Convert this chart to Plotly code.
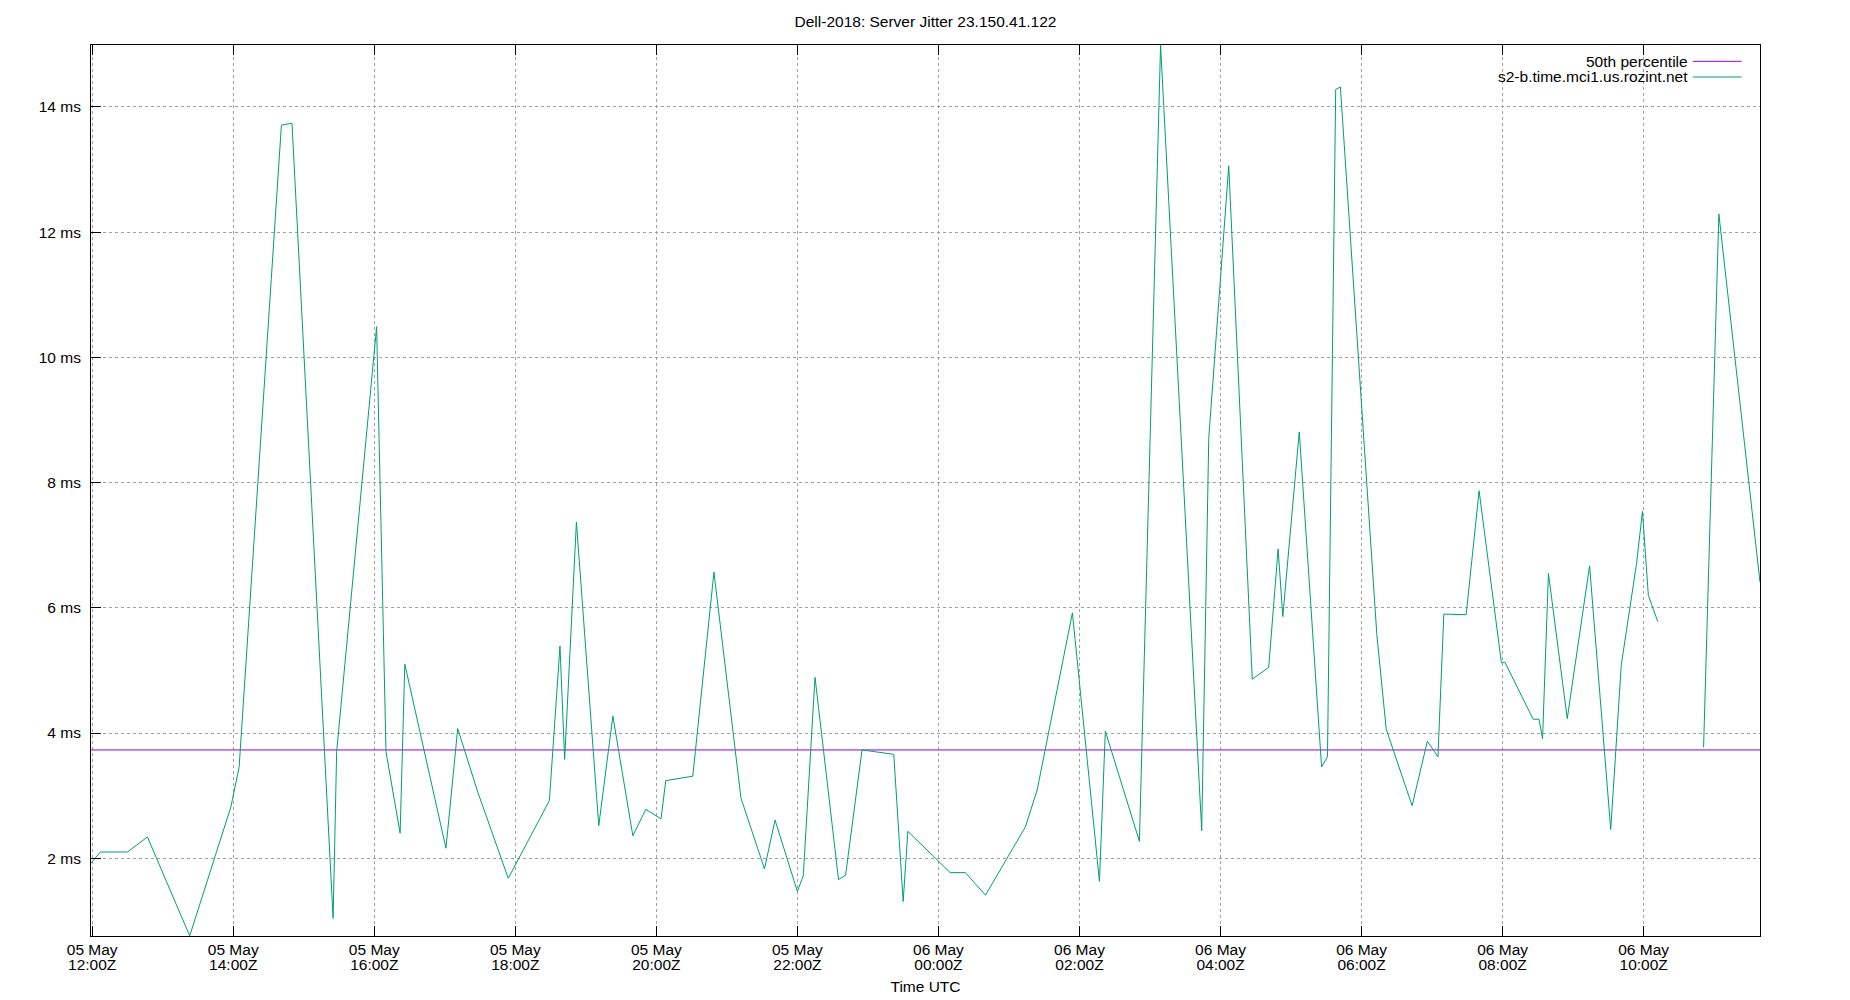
import plotly.graph_objects as go

# ---------------- data ----------------
times = [
    "2018-05-05 11:59", "2018-05-05 12:07", "2018-05-05 12:30", "2018-05-05 12:47",
    "2018-05-05 13:23", "2018-05-05 13:58", "2018-05-05 14:05", "2018-05-05 14:41",
    "2018-05-05 14:50", "2018-05-05 15:25", "2018-05-05 15:28", "2018-05-05 16:02",
    "2018-05-05 16:10", "2018-05-05 16:22", "2018-05-05 16:26", "2018-05-05 17:01",
    "2018-05-05 17:11", "2018-05-05 17:28", "2018-05-05 17:54", "2018-05-05 18:29",
    "2018-05-05 18:38", "2018-05-05 18:42", "2018-05-05 18:52", "2018-05-05 19:11",
    "2018-05-05 19:23", "2018-05-05 19:40", "2018-05-05 19:51", "2018-05-05 20:04",
    "2018-05-05 20:08", "2018-05-05 20:31", "2018-05-05 20:49", "2018-05-05 21:12",
    "2018-05-05 21:32", "2018-05-05 21:41", "2018-05-05 22:00", "2018-05-05 22:05",
    "2018-05-05 22:15", "2018-05-05 22:35", "2018-05-05 22:41", "2018-05-05 22:55",
    "2018-05-05 23:22", "2018-05-05 23:30", "2018-05-05 23:34", "2018-05-06 00:10",
    "2018-05-06 00:23", "2018-05-06 00:40", "2018-05-06 01:14", "2018-05-06 01:24",
    "2018-05-06 01:54", "2018-05-06 02:17", "2018-05-06 02:22", "2018-05-06 02:51",
    "2018-05-06 03:09", "2018-05-06 03:44", "2018-05-06 03:50", "2018-05-06 04:07",
    "2018-05-06 04:27", "2018-05-06 04:41", "2018-05-06 04:49", "2018-05-06 04:53",
    "2018-05-06 05:07", "2018-05-06 05:26", "2018-05-06 05:31", "2018-05-06 05:38",
    "2018-05-06 05:42", "2018-05-06 06:13", "2018-05-06 06:21", "2018-05-06 06:43",
    "2018-05-06 06:56", "2018-05-06 07:05", "2018-05-06 07:10", "2018-05-06 07:29",
    "2018-05-06 07:40", "2018-05-06 07:59", "2018-05-06 08:02", "2018-05-06 08:26",
    "2018-05-06 08:31", "2018-05-06 08:34", "2018-05-06 08:39", "2018-05-06 08:55",
    "2018-05-06 09:14", "2018-05-06 09:32", "2018-05-06 09:41", "2018-05-06 09:54",
    "2018-05-06 09:59", "2018-05-06 10:04", "2018-05-06 10:12", "2018-05-06 10:30",
    "2018-05-06 10:51", "2018-05-06 11:04", "2018-05-06 11:39",
]
jitter_ms = [
    1.92, 2.10, 2.10, 2.34,
    0.76, 2.82, 3.45, 13.71,
    13.74, 1.04, 3.70, 10.49,
    3.70, 2.40, 5.10, 2.16,
    4.07, 3.06, 1.68, 2.92,
    5.39, 3.58, 7.37, 2.52,
    4.27, 2.36, 2.78, 2.63,
    3.24, 3.31, 6.57, 2.96,
    1.83, 2.61, 1.47, 1.72,
    4.89, 1.66, 1.73, 3.73,
    3.66, 1.31, 2.43, 1.77,
    1.77, 1.41, 2.50, 3.09,
    5.92, 1.63, 4.03, 2.27,
    14.99, 2.44, 8.71, 13.06,
    4.86, 5.05, 6.94, 5.86,
    8.81, 3.46, 3.62, 14.28,
    14.32, 5.57, 4.06, 2.84,
    3.87, 3.62, 5.90, 5.89,
    7.87, 5.12, 5.13, 4.22,
    4.22, 3.91, 6.55, 4.23,
    6.67, 2.46, 5.09, 6.71,
    7.54, 6.20, 5.78, None,
    3.77, 12.29, 6.41,
]
median_ms = [3.73, 3.73]
tick_times = [
    "2018-05-05 12:00", "2018-05-05 14:00", "2018-05-05 16:00", "2018-05-05 18:00",
    "2018-05-05 20:00", "2018-05-05 22:00", "2018-05-06 00:00", "2018-05-06 02:00",
    "2018-05-06 04:00", "2018-05-06 06:00", "2018-05-06 08:00", "2018-05-06 10:00",
]
y_ticks = [2, 4, 6, 8, 10, 12, 14]
y_tick_labels = ["2 ms", "4 ms", "6 ms", "8 ms", "10 ms", "12 ms", "14 ms"]
series_names = ["50th percentile", "s2-b.time.mci1.us.rozint.net"]
colors = ["#9400d3", "#009e73"]
title_text = "Dell-2018: Server Jitter 23.150.41.122"
x_title = "Time UTC"

# ---------------- figure ----------------
FONT = "Liberation Sans, Arial, sans-serif"
FS = 15.5
TXT = dict(family=FONT, size=FS, color="black")
x_range = [times[0], times[-1]]
valid = [v for v in jitter_ms if v is not None]
y_range = [min(valid) - 0.002, max(valid)]

fig = go.Figure()
fig.add_trace(go.Scatter(
    x=x_range, y=median_ms, mode="lines", name=series_names[0],
    line=dict(color=colors[0], width=1), xaxis="x", yaxis="y", hoverinfo="skip"))
fig.add_trace(go.Scatter(
    x=times, y=jitter_ms, mode="lines", name=series_names[1], connectgaps=False,
    line=dict(color=colors[1], width=1), xaxis="x2", yaxis="y"))

common_grid = dict(showgrid=True, gridcolor="#a0a0a0", griddash="dot", gridwidth=1)

# the page body adds an 8px margin, so the figure is 8px smaller on each side
fig.update_layout(
    width=1842, height=992,
    margin=dict(l=83, r=90, t=37, b=64, autoexpand=False),
    paper_bgcolor="white", plot_bgcolor="white",
    font=TXT,
    showlegend=False,
    title=dict(text=title_text, x=0.5, xref="paper", xanchor="center",
               y=1 - 13.5 / 992, yref="container", yanchor="middle", font=TXT,
               automargin=False),
    xaxis=dict(
        type="date", range=x_range, tickvals=tick_times, tickformat="%d %b",
        ticks="inside", ticklen=10, tickwidth=1, tickcolor="black",
        showline=True, linecolor="black", linewidth=1, mirror="ticks",
        zeroline=False, tickfont=TXT, ticklabelstandoff=-1, automargin=False,
        **common_grid),
    xaxis2=dict(
        type="date", range=x_range, tickvals=tick_times, tickformat="%H:%MZ",
        overlaying="x", anchor="y", side="bottom",
        ticks="", showline=False, showgrid=False, zeroline=False,
        tickfont=TXT, ticklabelstandoff=17, automargin=False,
        title=dict(text=x_title, standoff=9, font=TXT)),
    yaxis=dict(
        range=y_range, tickvals=y_ticks, ticktext=y_tick_labels,
        ticks="inside", ticklen=10, tickwidth=1, tickcolor="black",
        showline=True, linecolor="black", linewidth=1, mirror=True,
        zeroline=False, tickfont=TXT, ticklabelstandoff=6, automargin=False,
        **common_grid),
)

# legend drawn gnuplot-style: right-aligned text followed by a line sample
leg_y = [0.9817, 0.9641]
for name, col, yy in zip(series_names, colors, leg_y):
    fig.add_annotation(text=name, xref="paper", yref="paper", x=0.9579, y=yy,
                       xanchor="right", yanchor="middle", showarrow=False, font=TXT)
    fig.add_shape(type="line", xref="paper", yref="paper", x0=0.9597, x1=0.9890,
                  y0=yy, y1=yy, line=dict(color=col, width=1))

fig.write_html("out.html")
